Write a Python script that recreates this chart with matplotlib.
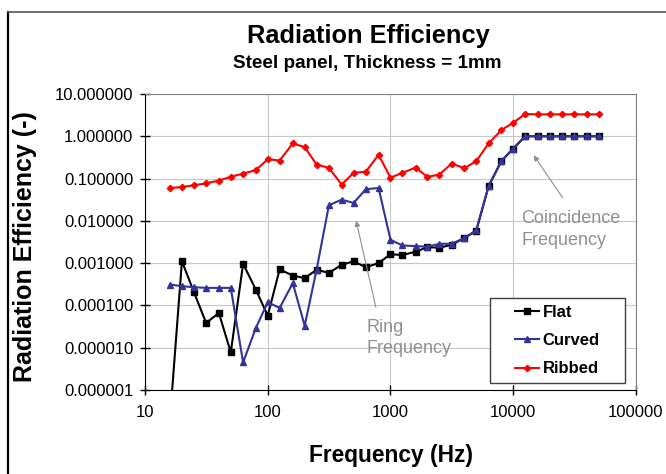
"""
Radiation efficiency of a 1mm steel panel
"""

import matplotlib.pyplot as plt
from matplotlib.lines import Line2D
from matplotlib.patches import Rectangle
from matplotlib.ticker import FuncFormatter, LogLocator, NullLocator

plt.rcParams['font.family'] = ['Liberation Sans', 'DejaVu Sans']

freq = [16, 20, 25, 31.5, 40, 50, 63, 80, 100, 125, 160, 200, 250, 315, 400, 500,
        630, 800, 1000, 1250, 1600, 2000, 2500, 3150, 4000, 5000, 6300, 8000,
        10000, 12500, 16000, 20000, 25000, 31500, 40000, 50000]

flat = [2.2e-7, 1.11e-3, 2.09e-4, 3.85e-5, 6.64e-5, 7.75e-6, 9.64e-4, 2.37e-4,
        5.74e-5, 7.08e-4, 5.10e-4, 4.41e-4, 6.95e-4, 5.90e-4, 9.12e-4, 1.10e-3,
        8.04e-4, 1.00e-3, 1.63e-3, 1.55e-3, 1.86e-3, 2.40e-3, 2.31e-3, 2.72e-3,
        3.90e-3, 5.90e-3, 0.066, 0.26, 0.51, 1.0, 1.0, 1.0, 1.0, 1.0, 1.0, 1.0]

curved = [3.12e-4, 2.85e-4, 2.70e-4, 2.60e-4, 2.60e-4, 2.60e-4, 4.49e-6, 2.93e-5,
          1.19e-4, 8.73e-5, 3.36e-4, 3.33e-5, 6.95e-4, 0.0233, 0.0318, 0.0265,
          0.0558, 0.060, 3.57e-3, 2.62e-3, 2.53e-3, 2.44e-3, 2.87e-3, 2.87e-3,
          3.92e-3, 5.96e-3, 0.0658, 0.258, 0.514, 1.0, 1.0, 1.0, 1.0, 1.0, 1.0, 1.0]

ribbed = [0.060, 0.063, 0.0695, 0.077, 0.090, 0.110, 0.131, 0.158, 0.287, 0.267,
          0.676, 0.553, 0.215, 0.179, 0.072, 0.136, 0.146, 0.364, 0.105, 0.136,
          0.182, 0.110, 0.124, 0.227, 0.176, 0.258, 0.676, 1.40, 2.09, 3.36,
          3.3, 3.3, 3.3, 3.3, 3.3, 3.3]

labels = ['Flat', 'Curved', 'Ribbed']
colors = ['#000000', '#333399', '#ff0000']
markers = ['s', '^', 'D']
msizes = [4.5, 5, 3.2]

fig = plt.figure(figsize=(6.66, 4.74), dpi=100)
ax = fig.add_axes([0.2177, 0.1772, 0.7372, 0.6245])

for y, lab, col, m, ms in zip([flat, curved, ribbed], labels, colors, markers, msizes):
    ax.plot(freq, y, color=col, marker=m, markersize=ms, lw=1.5, label=lab)

ax.set_xscale('log')
ax.set_yscale('log')
ax.set_xlim(10, 100000)
ax.set_ylim(1e-6, 10)
ax.xaxis.set_major_locator(LogLocator(base=10, numticks=10))
ax.yaxis.set_major_locator(LogLocator(base=10, numticks=10))
ax.xaxis.set_minor_locator(NullLocator())
ax.yaxis.set_minor_locator(NullLocator())
ax.xaxis.set_major_formatter(FuncFormatter(lambda v, p: f'{v:.0f}'))
ax.yaxis.set_major_formatter(FuncFormatter(lambda v, p: f'{v:.6f}'))
ax.tick_params(direction='inout', length=7, width=1, labelsize=12)
ax.tick_params(axis='x', pad=7)
ax.tick_params(axis='y', pad=5)
ax.grid(True, color='#c8c8c8', lw=0.8)
ax.set_axisbelow(True)
for s in ['top', 'right']:
    ax.spines[s].set_color('#808080')

# legend with its own frame
ax.add_patch(Rectangle((0.7026, 0.0236), 0.275, 0.2872, transform=ax.transAxes,
                       facecolor='white', edgecolor='#404040', lw=1, zorder=4))
leg = ax.legend(loc='center', bbox_to_anchor=(0.840, 0.167), frameon=False,
                numpoints=1, handlelength=1.45, handletextpad=0.2,
                labelspacing=0.8, prop={'weight': 'bold', 'size': 12})
leg.set_zorder(5)

grey = '#909090'
ax.annotate('', xy=(519, 0.0117), xytext=(769, 7.8e-5),
            arrowprops=dict(arrowstyle='-|>', color=grey, lw=0.8, mutation_scale=8))
ax.text(638, 1.66e-5, 'Ring\nFrequency', color=grey, fontsize=13,
        ha='left', va='center', linespacing=1.3)
ax.annotate('', xy=(14260, 0.403), xytext=(26000, 0.0312),
            arrowprops=dict(arrowstyle='-|>', color=grey, lw=0.8, mutation_scale=8))
ax.text(11620, 0.00627, 'Coincidence\nFrequency', color=grey, fontsize=13,
        ha='left', va='center', linespacing=1.4)

fig.text(0.5526, 0.9086, 'Radiation Efficiency', ha='center', va='baseline',
         fontsize=18.3, fontweight='bold')
fig.text(0.5511, 0.8565, 'Steel panel, Thickness = 1mm', ha='center', va='baseline',
         fontsize=13.6, fontweight='bold')
fig.text(0.587, 0.026, 'Frequency (Hz)', ha='center', va='baseline',
         fontsize=16.4, fontweight='bold')
fig.text(0.038, 0.479, 'Radiation Efficiency (-)', ha='center', va='center',
         rotation=90, fontsize=18, fontweight='bold')

# chart area border
fig.add_artist(Line2D([0.0121, 0.0121], [0, 0.9757], color='black', lw=1.6))
fig.add_artist(Line2D([0.0121, 1], [0.9757, 0.9757], color='#555555', lw=1.2))

plt.savefig('out.png', dpi=100)
